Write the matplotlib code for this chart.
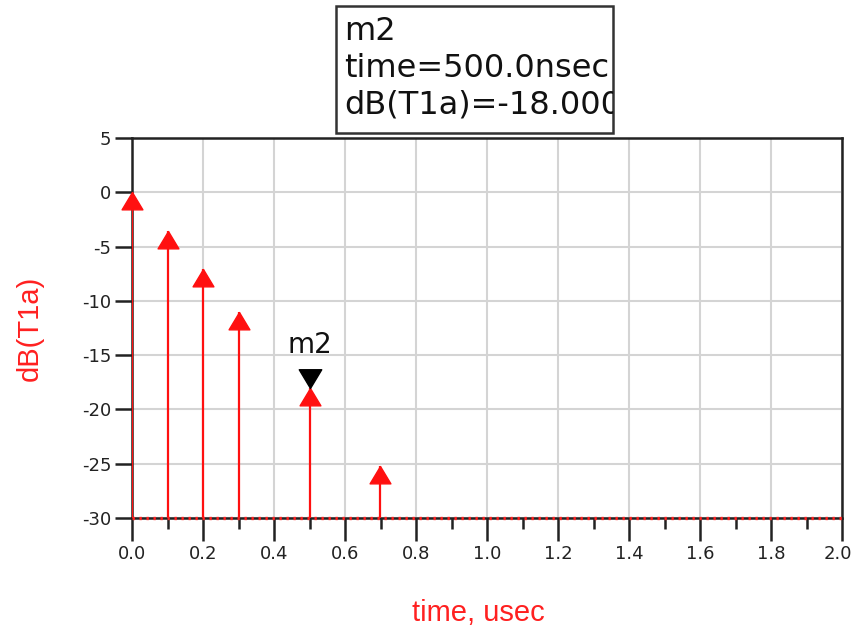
import matplotlib
matplotlib.use("Agg")
import matplotlib.pyplot as plt
import matplotlib.transforms as mtransforms
import numpy as np
from matplotlib.path import Path
from matplotlib.patches import Rectangle

plt.rcParams['font.family'] = ['DejaVu Sans']

# data
time_usec = [0.0, 0.1, 0.2, 0.3, 0.5, 0.7]
db_t1a = [0.0, -3.6, -7.1, -11.0, -18.0, -25.2]
floor_db = -30
marker_name = "m2"
marker_time = 0.5
marker_val = -18.0
marker_lines = ["m2", "time=500.0nsec", "dB(T1a)=-18.000"]
xticks = [0.0, 0.2, 0.4, 0.6, 0.8, 1.0, 1.2, 1.4, 1.6, 1.8, 2.0]
yticks = [5, 0, -5, -10, -15, -20, -25, -30]

fig = plt.figure(figsize=(8.54, 6.32), dpi=100)
ax = fig.add_axes([132/854, 1-518/632, (842-132)/854, (518-138)/632])
ax.set_xlim(0, 2.0)
ax.set_ylim(-30, 5)

ax.set_xticks(xticks)
ax.set_xticklabels([f"{v:.1f}" for v in xticks])
ax.set_xticks(np.arange(0.1, 2.0, 0.2), minor=True)
ax.set_yticks(yticks)
ax.set_yticklabels([str(v) for v in yticks])
ax.grid(True, color='#d4d4d4', linewidth=1.5, zorder=0)
ax.set_axisbelow(True)
ax.tick_params(axis='x', which='major', direction='out', length=16.5, width=1.8, labelsize=13, pad=3, color='#222222')
ax.tick_params(axis='x', which='minor', direction='out', length=8, width=1.8, color='#222222')
ax.tick_params(axis='y', which='major', direction='out', length=12, width=1.8, labelsize=13, pad=3, color='#222222')
for lbl in ax.get_xticklabels() + ax.get_yticklabels():
    lbl.set_color('#222222')
last = ax.get_xticklabels()[-1]
last.set_transform(last.get_transform() + mtransforms.ScaledTranslation(-4/100, 0, fig.dpi_scale_trans))
for s in ax.spines.values():
    s.set_linewidth(1.8)
    s.set_color('#222222')

up = Path([(0, 0), (-0.6, -1.0), (0.6, -1.0), (0, 0)], [Path.MOVETO, Path.LINETO, Path.LINETO, Path.CLOSEPOLY])
down = Path([(0, 0), (-0.6, 1.0), (0.6, 1.0), (0, 0)], [Path.MOVETO, Path.LINETO, Path.LINETO, Path.CLOSEPOLY])

ax.vlines(time_usec, floor_db, db_t1a, colors='#ff1010', linewidth=1.6, zorder=3)
ax.plot(time_usec, db_t1a, linestyle='none', marker=up, markersize=25, color='#ff1010', zorder=4, clip_on=False)

# floor dotted line
ax.plot([0, 2.0], [floor_db, floor_db], color='#ff2020', linestyle=(0, (0.7, 1.4)), linewidth=2.4,
        zorder=5, clip_on=False)

# m2 marker
ax.plot([marker_time], [marker_val], linestyle='none', marker=down, markersize=27, color='black', zorder=6, clip_on=False)
ax.text(marker_time, marker_val + 3.9, marker_name, ha='center', va='center', fontsize=20, color='#111111', zorder=6)

ax.set_ylabel("dB(T1a)", color='#ff2020', fontsize=21, family='Liberation Sans')
ax.yaxis.set_label_coords((30 - 132) / (842 - 132), 0.5)
ax.set_xlabel("time, usec", color='#ff2020', fontsize=21, family='Liberation Sans')
ax.xaxis.set_label_coords((478 - 132) / (842 - 132), -(613 - 518) / (518 - 138))
ax.xaxis.label.set_va('center')
ax.yaxis.label.set_va('center')

# marker readout box
x0, y0, x1, y1 = 336/854, 1-133/632, 613/854, 1-6/632
rect = Rectangle((x0, y0), x1-x0, y1-y0, transform=fig.transFigure, fill=False,
                 edgecolor='#333333', linewidth=1.8)
fig.add_artist(rect)
clip = Rectangle((x0, y0), x1-x0, y1-y0, transform=fig.transFigure, fill=False, linewidth=0)
fig.add_artist(clip)
for i, line in enumerate(marker_lines):
    t = fig.text(344/854, 1-(32 + i*36.5)/632, line, fontsize=23, va='center', ha='left', color='#111111')
    t.set_clip_path(clip)

fig.savefig("out.png", dpi=100)
